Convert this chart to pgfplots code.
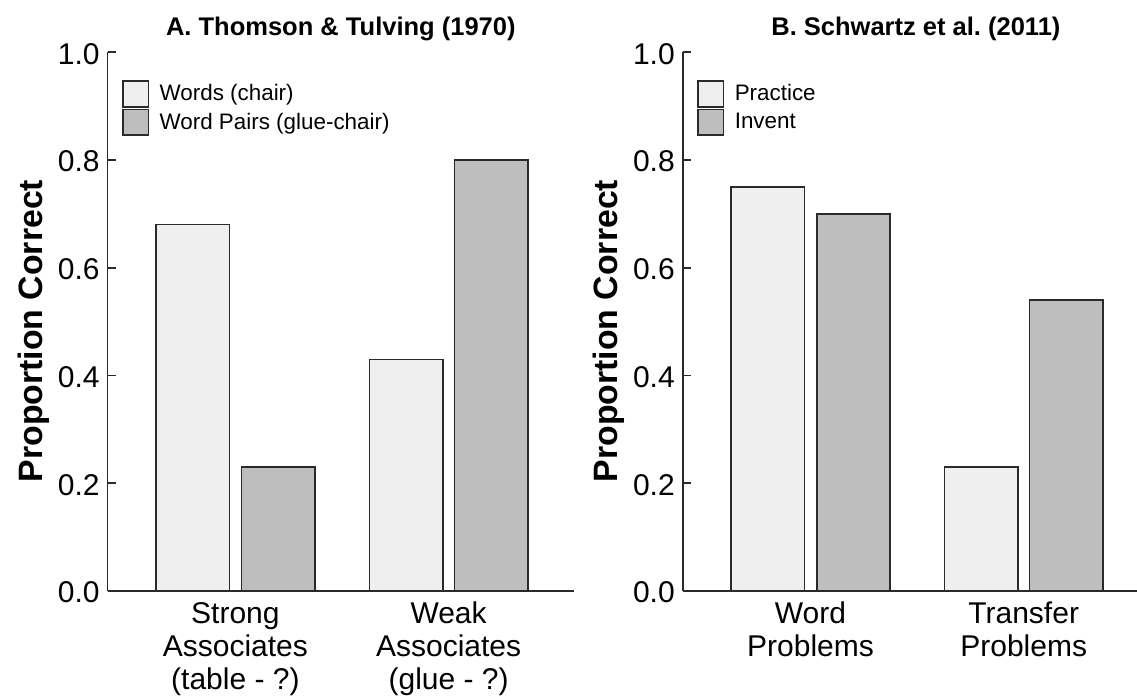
\documentclass[border=0pt]{standalone}
\usepackage{pgfplots}
\pgfplotsset{compat=1.18}
\usepackage{fontspec}
\setmainfont{Liberation Sans}
\frenchspacing
\definecolor{lightbar}{HTML}{EFEFEF}
\definecolor{darkbar}{HTML}{BEBEBE}
\definecolor{edge}{HTML}{2A2A2A}
\pgfplotsset{
  panel/.style={
    scale only axis, width=233.2bp, height=269.35bp,
    xmin=0, xmax=466.4, ymin=0, ymax=1,
    axis x line=bottom, axis y line=left,
    axis line style={-, line width=0.8bp, draw=edge},
    ytick={0,0.2,0.4,0.6,0.8,1},
    yticklabels={0.0,0.2,0.4,0.6,0.8,1.0},
    xtick={127.8,341},
    tick align=inside, major tick length=4bp,
    y tick style={line width=0.8bp, draw=edge},
    x tick style={draw=none},
    yticklabel style={inner sep=0pt, xshift=-3.8bp, yshift=-0.8bp, font=\fontsize{15bp}{18bp}\selectfont},
    xticklabel style={inner sep=0pt, yshift=-5.35bp, align=center, font=\fontsize{15bp}{16.5bp}\selectfont},
    every axis y label/.style={at={(axis description cs:-0.1396,0.4826)}, rotate=90, anchor=base, inner sep=0pt, font=\bfseries\fontsize{16.9bp}{20bp}\selectfont},
    every axis title/.style={at={(axis description cs:0.5,1)}, anchor=base, yshift=8.15bp, inner sep=0pt, font=\bfseries\fontsize{12.75bp}{15bp}\selectfont},
    legend style={at={(axis description cs:0.0304,0.9486)}, anchor=north west, draw=none, fill=none, inner sep=0pt, row sep=0.6bp,
      font=\fontsize{11.2bp}{13bp}\selectfont, nodes={inner sep=0pt}, column sep=5.2bp},
    legend cell align=left,
    legend image code/.code={\draw[##1, line width=0.8bp] (0bp,-6.4bp) rectangle (12.75bp,6.4bp);},
    ylabel={Proportion Correct},
    clip=false,
  },
  lightb/.style={ybar, bar width=36.6bp, bar shift=0pt, fill=lightbar, draw=edge, line width=0.8bp},
  darkb/.style={ybar, bar width=36.6bp, bar shift=0pt, fill=darkbar, draw=edge, line width=0.8bp},
}
\begin{document}
\begin{tikzpicture}
\useasboundingbox (0,0) rectangle (568.5bp,349bp);
% Panel A
\begin{axis}[panel, at={(53.8bp,53.5bp)}, anchor=south west,
  title={A. Thomson \& Tulving (1970)},
  xticklabels={{Strong\\Associates\\(table - ?)},{Weak\\Associates\\(glue - ?)}}]
\addplot[lightb] coordinates {(85.1,0.68) (298.5,0.43)};
\addlegendentry{Words (chair)}
\addplot[darkb] coordinates {(170.6,0.23) (383.5,0.80)};
\addlegendentry{Word Pairs (glue-chair)}
\end{axis}
% Panel B
\begin{axis}[panel, at={(341.35bp,53.5bp)}, anchor=south west,
  title={B. Schwartz et al. (2011)},
  xticklabels={{Word\\Problems},{Transfer\\Problems}}]
\addplot[lightb] coordinates {(85.1,0.75) (298.5,0.23)};
\addlegendentry{Practice}
\addplot[darkb] coordinates {(170.6,0.70) (383.5,0.54)};
\addlegendentry{Invent}
\end{axis}
\end{tikzpicture}
\end{document}
